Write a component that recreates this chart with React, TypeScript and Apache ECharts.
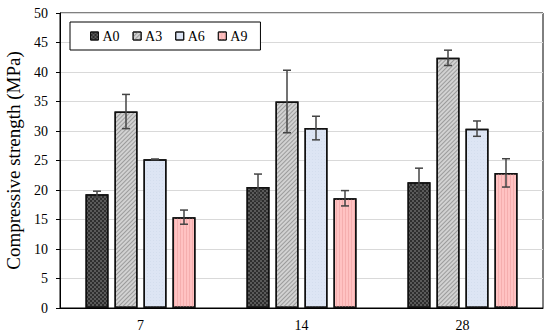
import React, { useEffect, useRef } from "react";
import * as echarts from "echarts";

const categories = ["7", "14", "28"];
const seriesNames = ["A0", "A3", "A6", "A9"];
const valuesA0 = [19.3, 20.5, 21.3];
const valuesA3 = [33.3, 35.0, 42.4];
const valuesA6 = [25.2, 30.5, 30.4];
const valuesA9 = [15.4, 18.6, 22.9];
const errA0 = [0.5, 2.2, 2.4];
const errA3 = [2.9, 5.3, 1.3];
const errA6 = [0.05, 2.0, 1.3];
const errA9 = [1.2, 1.3, 2.4];
const yTicks = { min: 0, max: 50, interval: 5 };

const allValues = [valuesA0, valuesA3, valuesA6, valuesA9];
const allErrs = [errA0, errA3, errA6, errA9];

const FONT = "Liberation Serif";
const BAR_W = 23;
const BAR_GAP_PX = 6;

const styles = [
  {
    color: "#5a5a5a",
    decal: {
      symbol: "rect",
      symbolSize: 1,
      color: "#2e2e2e",
      dashArrayX: [[2, 2], [0, 2, 2, 0]],
      dashArrayY: [2, 0],
      rotation: 0,
    },
  },
  {
    color: "#d2d2d2",
    decal: {
      symbol: "rect",
      symbolSize: 1,
      color: "#9c9c9c",
      dashArrayX: [1, 0],
      dashArrayY: [1, 2],
      rotation: -Math.PI / 4,
    },
  },
  {
    color: "#dde5f4",
    decal: {
      symbol: "rect",
      symbolSize: 0.6,
      color: "#c0cbe0",
      dashArrayX: [1, 2],
      dashArrayY: [1, 2],
      rotation: 0,
    },
  },
  {
    color: "#ffc2c2",
    decal: {
      symbol: "rect",
      symbolSize: 1,
      color: "#f5aeae",
      dashArrayX: [1, 2],
      dashArrayY: [1, 0],
      rotation: 0,
    },
  },
];

export default function App() {
  const ref = useRef<HTMLDivElement>(null);
  useEffect(() => {
    if (!ref.current) return;
    const chart = echarts.init(ref.current, undefined, { renderer: "svg" });

    const barSeries = seriesNames.map((name, i) => ({
      name,
      type: "bar",
      data: allValues[i],
      barWidth: BAR_W,
      barGap: `${(BAR_GAP_PX / BAR_W) * 100}%`,
      itemStyle: {
        color: styles[i].color,
        decal: styles[i].decal,
        borderColor: "#111",
        borderWidth: 1.5,
      },
      emphasis: { disabled: true },
    }));

    const errSeries = seriesNames.map((name, i) => ({
      type: "custom",
      name: name + "_err",
      data: allValues[i].map((v, k) => [k, v, allErrs[i][k]]),
      z: 10,
      silent: true,
      renderItem: (params: any, api: any) => {
        const k = api.value(0);
        const v = api.value(1);
        const e = api.value(2);
        const offset = (i - 1.5) * (BAR_W + BAR_GAP_PX);
        const hi = api.coord([k, v + e]);
        const lo = api.coord([k, v - e]);
        const x = hi[0] + offset;
        const cap = 4;
        const style = { stroke: "#444", lineWidth: 1.5 };
        return {
          type: "group",
          children: [
            { type: "line", shape: { x1: x, y1: hi[1], x2: x, y2: lo[1] }, style },
            { type: "line", shape: { x1: x - cap, y1: hi[1], x2: x + cap, y2: hi[1] }, style },
            { type: "line", shape: { x1: x - cap, y1: lo[1], x2: x + cap, y2: lo[1] }, style },
          ],
        };
      },
    }));

    chart.setOption({
      animation: false,
      backgroundColor: "#fff",
      grid: {
        left: 60,
        right: 7,
        top: 13,
        bottom: 27,
        show: true,
        borderColor: "#000",
        borderWidth: 1,
        containLabel: false,
        outerBoundsMode: "none",
      },
      legend: {
        data: seriesNames,
        left: 70,
        top: 22,
        orient: "horizontal",
        itemWidth: 8,
        itemHeight: 8,
        itemGap: 13,
        padding: [7, 13, 7, 20],
        borderColor: "#000",
        borderWidth: 1,
        backgroundColor: "#fff",
        textStyle: { fontFamily: FONT, fontSize: 14, color: "#000", padding: [0, 0, 0, -1] },
        icon: "rect",
        itemStyle: { borderColor: "#111", borderWidth: 1 },
      },
      xAxis: {
        type: "category",
        data: categories,
        axisLine: { lineStyle: { color: "#000", width: 1 } },
        axisTick: { show: false },
        axisLabel: { fontFamily: FONT, fontSize: 14, color: "#000", margin: 10 },
      },
      yAxis: {
        type: "value",
        min: yTicks.min,
        max: yTicks.max,
        interval: yTicks.interval,
        name: "Compressive strength (MPa)",
        nameLocation: "middle",
        nameGap: 35,
        nameTextStyle: { fontFamily: FONT, fontSize: 19, color: "#000" },
        axisLine: { show: true, lineStyle: { color: "#000", width: 1 } },
        axisTick: { show: true, length: 4, lineStyle: { color: "#000" } },
        axisLabel: { fontFamily: FONT, fontSize: 14, color: "#000", margin: 12 },
        splitLine: { lineStyle: { color: "#d9d9d9", width: 1 } },
      },
      series: [...barSeries, ...errSeries],
    } as any);
    return () => chart.dispose();
  }, []);
  return (
    <div
      ref={ref}
      style={{ width: 550, height: 335, position: "absolute", left: 0, top: 0 }}
    />
  );
}
